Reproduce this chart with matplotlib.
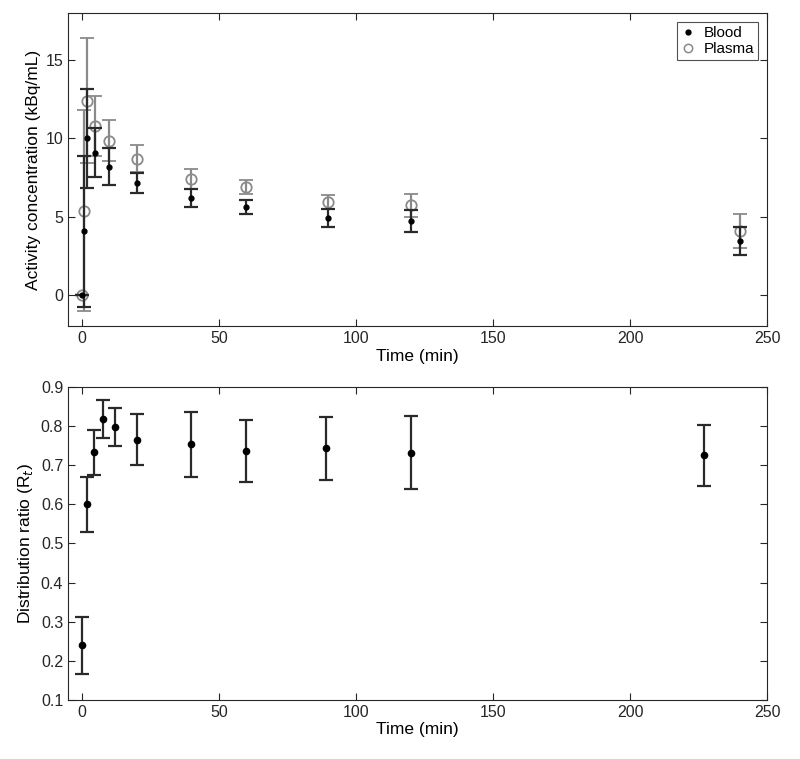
import matplotlib
matplotlib.use("Agg")
import matplotlib.pyplot as plt
from matplotlib.lines import Line2D

plt.rcParams['font.family'] = ['Liberation Sans', 'DejaVu Sans']

# Top panel data: activity concentration (kBq/mL)
time_top = [0, 1, 2, 5, 10, 20, 40, 60, 90, 120, 240]
blood = [0, 4.06, 10.0, 9.08, 8.2, 7.16, 6.2, 5.6, 4.92, 4.72, 3.44]
blood_err = [0, 4.8, 3.15, 1.58, 1.15, 0.65, 0.58, 0.44, 0.56, 0.73, 0.9]
plasma = [0, 5.38, 12.4, 10.8, 9.85, 8.7, 7.39, 6.9, 5.94, 5.72, 4.1]
plasma_err = [0, 6.4, 4.0, 1.9, 1.33, 0.87, 0.64, 0.43, 0.43, 0.75, 1.07]

# Bottom panel data: distribution ratio
time_bot = [0, 2, 4.5, 7.6, 12, 20, 40, 60, 89, 120, 227]
ratio = [0.24, 0.60, 0.733, 0.818, 0.798, 0.765, 0.754, 0.737, 0.743, 0.732, 0.725]
ratio_err = [0.073, 0.071, 0.057, 0.049, 0.049, 0.065, 0.083, 0.080, 0.080, 0.093, 0.079]

xticks = [0, 50, 100, 150, 200, 250]
yticks_top = [0, 5, 10, 15]
yticks_bot = [0.1, 0.2, 0.3, 0.4, 0.5, 0.6, 0.7, 0.8, 0.9]

fig = plt.figure(figsize=(8.0, 7.59), dpi=100)
ax1 = fig.add_axes([0.085, 0.570, 0.874, 0.413])
ax2 = fig.add_axes([0.085, 0.078, 0.874, 0.412])

plasma_col = '#8a8a8a'
blood_err_col = '#2a2a2a'

ax1.errorbar(time_top, plasma, yerr=plasma_err, fmt='o', color=plasma_col,
             mfc='none', mec=plasma_col, ms=7.5, mew=1.3, ecolor=plasma_col,
             elinewidth=1.6, capsize=4.8, capthick=1.6, zorder=2)
ax1.errorbar(time_top, blood, yerr=blood_err, fmt='o', color='black',
             ms=3.5, ecolor=blood_err_col, elinewidth=1.6, capsize=4.8,
             capthick=1.6, zorder=3)

ax2.errorbar(time_bot, ratio, yerr=ratio_err, fmt='o', color='black', ms=4.5,
             ecolor=blood_err_col, elinewidth=1.6, capsize=4.8, capthick=1.6)

for ax in (ax1, ax2):
    ax.set_xlim(-5, 250)
    ax.set_xticks(xticks)
    ax.tick_params(direction='in', top=True, right=True, labelsize=11.5,
                   length=5, width=0.8, colors='#262626')
    for s in ax.spines.values():
        s.set_color('#262626')
        s.set_linewidth(0.8)
    ax.set_xlabel('Time (min)', fontsize=12.5, labelpad=2)

ax1.set_ylim(-2, 18)
ax1.set_yticks(yticks_top)
ax1.set_ylabel('Activity concentration (kBq/mL)', fontsize=12.5, labelpad=3)

ax2.set_ylim(0.1, 0.9)
ax2.set_yticks(yticks_bot)
ax2.set_yticklabels(['%.1f' % v for v in yticks_bot])
ax2.set_ylabel('Distribution ratio (R$_t$)', fontsize=12.5, labelpad=4)

handles = [Line2D([], [], ls='none', marker='o', color='black', ms=3.5),
           Line2D([], [], ls='none', marker='o', mfc='none', mec=plasma_col, ms=6, mew=1.1)]
leg = ax1.legend(handles, ['Blood', 'Plasma'], loc='upper right', fontsize=11,
                 frameon=True, fancybox=False, edgecolor='#262626',
                 handlelength=1.0, handletextpad=0.5, borderpad=0.25,
                 labelspacing=0.15, borderaxespad=0.6)
leg.get_frame().set_linewidth(0.8)

fig.savefig('out.png', dpi=100)
